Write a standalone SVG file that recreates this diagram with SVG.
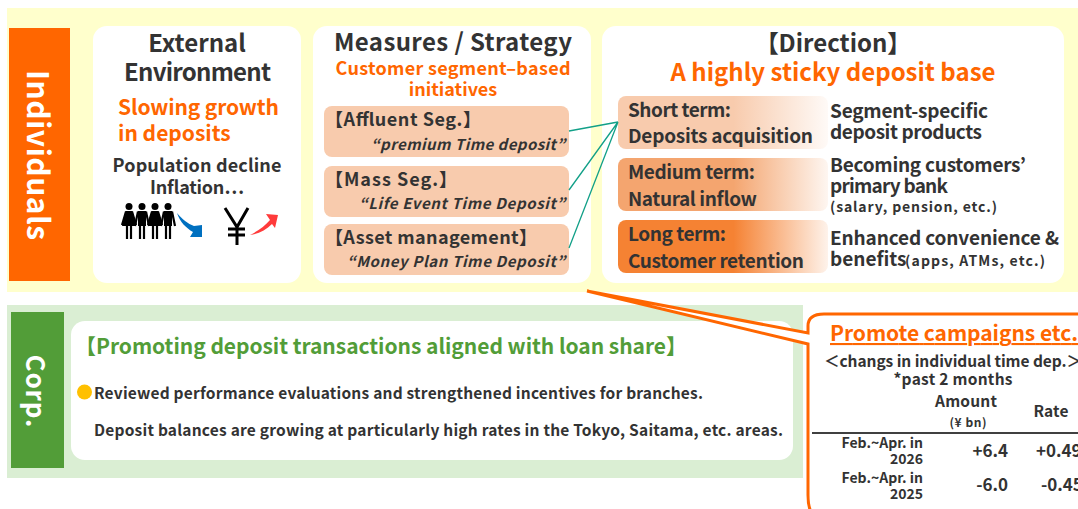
<svg xmlns="http://www.w3.org/2000/svg" width="1078" height="509" viewBox="0 0 1078 509">
<style>
text{font-family:"Noto Sans CJK JP","Noto Sans",sans-serif;font-weight:700;fill:#333}
.m{text-anchor:middle}
.h{font-size:24px}
.ot{font-size:21px;fill:#FF6600}
.b{font-size:18px}
.seg{font-size:18px}
.it{font-size:15px;font-style:italic}
.t{font-size:19px}
.r{font-size:19px}
.s{font-size:14px}
.c{font-size:15.500px}
.tb{font-size:14px;text-anchor:end}
.v{font-size:17px;text-anchor:end}
.card{fill:#fff}
.pill{fill:#F8CBAD}
.limb{fill:none;stroke:#000;stroke-width:2.200}
</style>
<defs>
<linearGradient id="g1"><stop offset="0.55" stop-color="#F8CBAD"/><stop offset="1" stop-color="#F8CBAD" stop-opacity="0.1"/></linearGradient>
<linearGradient id="g2"><stop offset="0.55" stop-color="#F4A56F"/><stop offset="1" stop-color="#F4A56F" stop-opacity="0.1"/></linearGradient>
<linearGradient id="g3"><stop offset="0.55" stop-color="#F58233"/><stop offset="1" stop-color="#F58233" stop-opacity="0.1"/></linearGradient>
<g id="woman"><circle cx="0" cy="206.500" r="3.500"/><path d="M-3.500 211h7l3.500 15h-14z"/><path class="limb" d="M-3 211.500L-7 225M3 211.500L7 225M-2 225V239M2 225V239"/></g>
<g id="man"><circle cx="0" cy="206.500" r="3.500"/><rect x="-4" y="211" width="8" height="15"/><path class="limb" d="M-4 211.500L-7 226M4 211.500L7 226M-2 225V239M2 225V239"/></g>
</defs>
<rect x="7" y="8" width="1071" height="284" fill="#FFFFCC"/>
<rect x="7" y="305" width="796" height="173" fill="#DAEED3"/>
<g id="individuals"><rect x="9" y="28" width="61" height="253" fill="#FF6600"/>
<text transform="translate(39.500,155) rotate(90)" class="m" dominant-baseline="central" style="font-size:30px;fill:#fff" textLength="170">Individuals</text></g>
<g id="external"><rect class="card" x="93" y="26" width="208" height="257" rx="14"/>
<text class="m h" x="197" y="52">External</text>
<text class="m h" x="197.500" y="81" textLength="147">Environment</text>
<text class="ot" x="118" y="115" textLength="161">Slowing growth</text>
<text class="ot" x="118" y="141">in deposits</text>
<text class="m b" x="197" y="172" textLength="169">Population decline</text>
<text class="m b" x="197" y="194" textLength="94">Inflation…</text>
<g fill="#000"><use href="#woman" x="129"/><use href="#man" x="142"/><use href="#woman" x="155"/><use href="#man" x="168"/></g>
<path d="M177 213C182 219 188 224 194 226L202 225L202 237L190 237L193 232C186 228 180 222 177 213Z" fill="#0070C0"/>
<path d="M225 208L237 227L248 208M237 227V245M228 229H245M228 235H245" fill="none" stroke="#000" stroke-width="3"/>
<path d="M250 235C258 231 265 226 270 220L266 214L278 215L275 228L272 224C266 230 258 234 250 235Z" fill="#FF3B3B"/></g>
<g id="measures"><rect class="card" x="313" y="26" width="278" height="257" rx="14"/>
<text class="m h" x="453" y="51" textLength="238">Measures / Strategy</text>
<text class="m" x="453" y="75" style="font-size:18px;fill:#FF6600" textLength="235">Customer segment–based</text>
<text class="m" x="453" y="96" style="font-size:18px;fill:#FF6600">initiatives</text>
<rect class="pill" x="324" y="106" width="245" height="51" rx="8"/>
<rect class="pill" x="324" y="166" width="245" height="51" rx="8"/>
<rect class="pill" x="324" y="224" width="245" height="51" rx="8"/>
<text class="seg" x="325" y="126" textLength="156">【Affluent Seg.】</text>
<text class="it" x="371" y="150" textLength="194">“premium Time deposit”</text>
<text class="seg" x="325" y="186" textLength="132">【Mass Seg.】</text>
<text class="it" x="359" y="209" textLength="206">“Life Event Time Deposit”</text>
<text class="seg" x="325" y="244" textLength="212">【Asset management】</text>
<text class="it" x="347" y="267" textLength="218">“Money Plan Time Deposit”</text></g>
<g id="direction"><rect class="card" x="602" y="26" width="462" height="257" rx="14"/>
<text class="m h" x="833" y="52">【Direction】</text>
<text class="m" x="833" y="81" style="font-size:24px;fill:#FF6600" textLength="325">A highly sticky deposit base</text>
<rect x="618" y="96" width="210" height="53" rx="8" fill="url(#g1)"/>
<rect x="618" y="158" width="210" height="53" rx="8" fill="url(#g2)"/>
<rect x="618" y="220" width="210" height="53" rx="8" fill="url(#g3)"/>
<text class="t" x="628" y="117" textLength="103">Short term:</text>
<text class="t" x="628" y="143" textLength="185">Deposits acquisition</text>
<text class="t" x="628" y="179" textLength="127">Medium term:</text>
<text class="t" x="628" y="206" textLength="129">Natural inflow</text>
<text class="t" x="628" y="241" textLength="98">Long term:</text>
<text class="t" x="628" y="268" textLength="176">Customer retention</text>
<text class="r" x="830" y="118" textLength="158">Segment-specific</text>
<text class="r" x="830" y="139" textLength="152">deposit products</text>
<text class="r" x="830" y="172" textLength="196">Becoming customers’</text>
<text class="r" x="830" y="193" textLength="118">primary bank</text>
<text class="s" x="830" y="212" textLength="167">(salary, pension, etc.)</text>
<text class="r" x="830" y="245" textLength="229">Enhanced convenience &amp;</text>
<text class="r" x="830" y="266">benefits</text>
<text class="s" x="905" y="266" textLength="140">(apps, ATMs, etc.)</text></g>
<g id="connectors" fill="none" stroke="#12A088" stroke-width="1.300">
<path d="M569 131L618 122M569 190L618 122M569 248L618 122"/>
</g>
<g id="corp"><rect x="11" y="312" width="53" height="156" fill="#529D38"/>
<text transform="translate(37.500,391) rotate(90)" class="m" dominant-baseline="central" style="font-size:26px;fill:#fff" textLength="73">Corp.</text></g>
<g id="promoting"><rect class="card" x="71" y="321" width="722" height="139" rx="14"/>
<text x="75" y="354" style="font-size:21px;fill:#529D38" textLength="612">【Promoting deposit transactions aligned with loan share】</text>
<circle cx="84.500" cy="392" r="7.500" fill="#FFC000"/>
<text x="94" y="399" style="font-size:15.500px" textLength="609">Reviewed performance evaluations and strengthened incentives for branches.</text>
<text x="94" y="436" style="font-size:15.500px" textLength="689">Deposit balances are growing at particularly high rates in the Tokyo, Saitama, etc. areas.</text></g>
<g id="campaign">
<path d="M587 291L808 333V326Q808 314 824 314H1090V520H824Q808 520 808 495V344Z" fill="#fff" stroke="#FF6600" stroke-width="3"/>
<text x="830" y="341" style="font-size:21px;fill:#FF6600;text-decoration:underline" textLength="248">Promote campaigns etc.</text>
<text x="824" y="367" class="c" textLength="258">＜changs in individual time dep.＞</text>
<text x="953" y="385" class="c m" textLength="119">*past 2 months</text>
<text x="966" y="407" class="c m" textLength="62">Amount</text>
<text x="968" y="427" class="m" style="font-size:12px" textLength="37">(¥ bn)</text>
<text x="1051" y="417" class="c m" textLength="35">Rate</text>
<line x1="812" y1="433" x2="1078" y2="433" stroke="#000" stroke-width="1.500"/>
<text class="tb" x="923" y="448">Feb.~Apr. in</text>
<text class="tb" x="923" y="464">2026</text>
<text class="tb" x="923" y="483">Feb.~Apr. in</text>
<text class="tb" x="923" y="499">2025</text>
<text class="v" x="1008" y="457">+6.4</text>
<text x="1036" y="457" style="font-size:17px">+0.49</text>
<text class="v" x="1008" y="491">-6.0</text>
<text x="1041" y="491" style="font-size:17px">-0.45</text>
</g>
</svg>
